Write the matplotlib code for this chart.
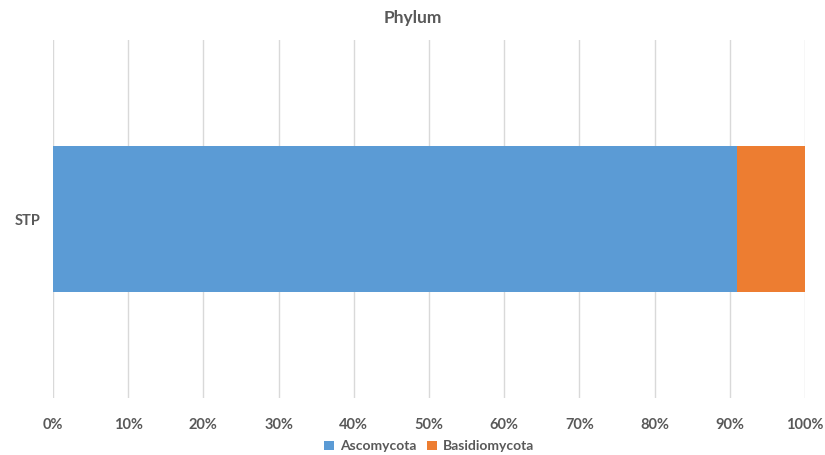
import numpy as np
from matplotlib import pyplot as plt
from matplotlib.ticker import PercentFormatter

plt.rcParams["font.family"] = ["Lato", "DejaVu Sans"]

samples = ["STP"]
phyla = ["Ascomycota", "Basidiomycota"]
ascomycota = [0.91]
basidiomycota = [0.09]
colors = ["#5B9BD5", "#ED7D31"]
ticks = np.arange(0, 1.01, 0.1)

fig = plt.figure(figsize=(8.25, 4.55), dpi=100)
ax = fig.add_axes([0.0642, 0.125, 0.9116, 0.787])

left = np.zeros(len(samples))
for name, vals, c in zip(phyla, [ascomycota, basidiomycota], colors):
    ax.barh(samples, vals, left=left, height=0.41, color=c, label=name, zorder=2)
    left += np.array(vals)

ax.set_xlim(0, 1)
ax.set_ylim(-0.5, 0.5)
ax.set_xticks(ticks)
ax.xaxis.set_major_formatter(PercentFormatter(1.0, decimals=0))
ax.grid(axis="x", color="#D9D9D9", linewidth=1, zorder=0)
for s in ax.spines.values():
    s.set_visible(False)
ax.tick_params(length=0, labelsize=10.5, labelcolor="#595959")
ax.tick_params(axis="x", pad=14)
ax.tick_params(axis="y", pad=9)
for lab in ax.get_xticklabels() + ax.get_yticklabels():
    lab.set_fontweight("bold")

fig.text(0.5, 0.96, "Phylum", ha="center", va="center", fontsize=12.5,
         fontweight="bold", color="#595959")

leg = ax.legend(loc="center", bbox_to_anchor=(0.5, -0.135), ncol=2, frameon=False,
                handlelength=0.7, handleheight=0.7, columnspacing=0.8,
                handletextpad=0.4, fontsize=10, borderpad=0)
for t in leg.get_texts():
    t.set_color("#595959")
    t.set_fontweight("bold")

fig.savefig("out.png", dpi=100)
